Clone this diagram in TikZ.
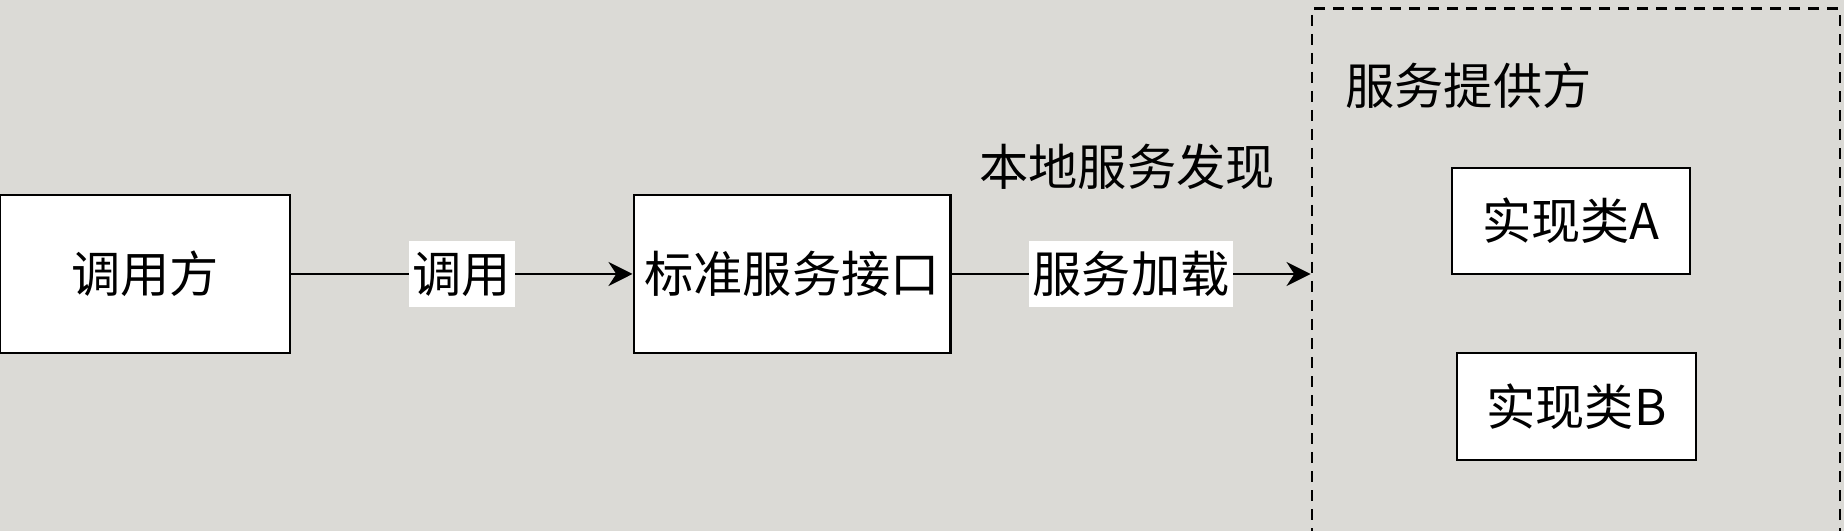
\documentclass[tikz,border=0pt]{standalone}
\usepackage{fontspec}
\setmainfont{Noto Sans CJK SC}
\usetikzlibrary{arrows.meta}
\usetikzlibrary{positioning}
\definecolor{canvas}{RGB}{219,218,214}
\tikzset{x=0.01cm, y=-0.01cm,
    every node/.style={
        font=\fontsize{14}{17}\selectfont},
    block/.style={
        draw,
        line width=0.8pt,
        fill=white,
        inner sep=0pt},
    tag/.style={
        fill=white,
        inner xsep=1pt,
        inner ysep=3pt},
    every edge/.style={
        draw,
        -{Stealth[length=2.4mm,width=2.4mm]},
        line width=0.7pt}}

\begin{document}
\begin{tikzpicture}
        \fill[canvas] (0,0) rectangle (1844,531);
        \useasboundingbox (0,0) rectangle (1844,531);

        \node[block, minimum width=2.9cm, minimum height=1.58cm] (caller) at (145,274) {调用方};
        \node[block, minimum width=3.16cm, minimum height=1.58cm] (interface) at (792,274) {标准服务接口};
        \node (discover) at (1127,167) {本地服务发现};

        \node[draw, dash pattern=on 1.1mm off 0.8mm, line width=0.75pt,
              minimum width=5.28cm, minimum height=5.91cm] (provider) at (1576,304.5) {};
        \node[anchor=west] (title) at (1333,86) {服务提供方};
        \node[block, minimum width=2.38cm, minimum height=1.06cm] (implA) at (1571,221) {实现类A};
        \node[block, minimum width=2.39cm, minimum height=1.07cm] (implB) at (1576.5,406.5) {实现类B};
        \coordinate (entry) at (provider.west |- interface.east);

        \draw (caller) edge node[tag] {调用} (interface);
        \draw (interface) edge node[tag] {服务加载} (entry);
    \end{tikzpicture}
\end{document}
